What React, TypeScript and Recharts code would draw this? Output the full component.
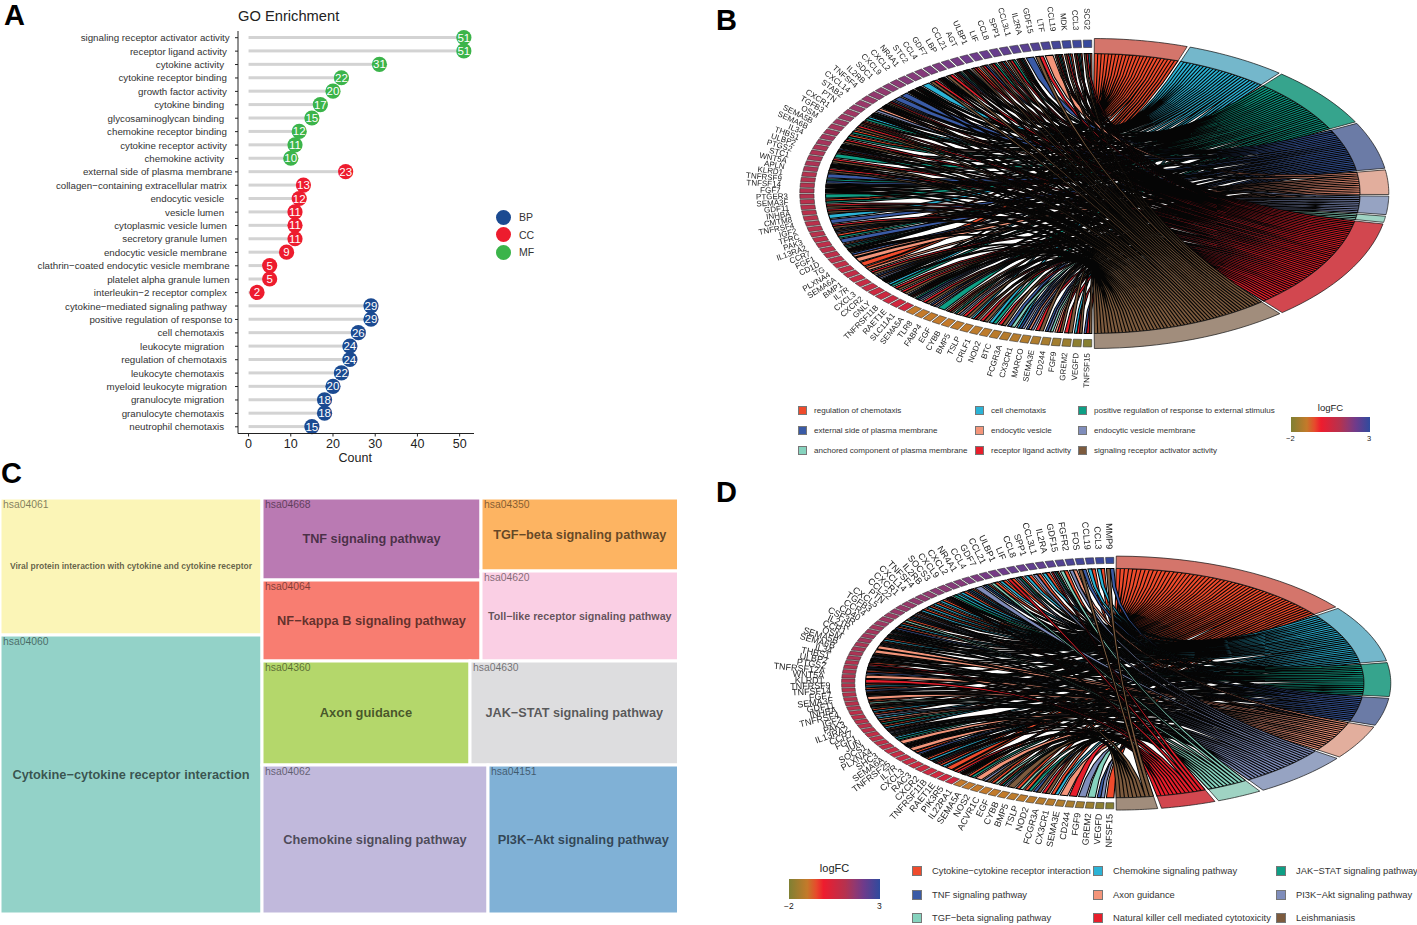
import { BarChart, Bar, XAxis, YAxis, ScatterChart, Scatter, Treemap } from "recharts"

const FONT = "'Liberation Sans', Arial, sans-serif"

// Panel A: lollipops, top row first
const goTerms = [
  "signaling receptor activator activity", "receptor ligand activity", "cytokine activity",
  "cytokine receptor binding", "growth factor activity", "cytokine binding",
  "glycosaminoglycan binding", "chemokine receptor binding", "cytokine receptor activity",
  "chemokine activity", "external side of plasma membrane", "collagen−containing extracellular matrix",
  "endocytic vesicle", "vesicle lumen", "cytoplasmic vesicle lumen", "secretory granule lumen",
  "endocytic vesicle membrane", "clathrin−coated endocytic vesicle membrane", "platelet alpha granule lumen",
  "interleukin−2 receptor complex", "cytokine−mediated signaling pathway", "positive regulation of response to",
  "cell chemotaxis", "leukocyte migration", "regulation of chemotaxis", "leukocyte chemotaxis",
  "myeloid leukocyte migration", "granulocyte migration", "granulocyte chemotaxis", "neutrophil chemotaxis",
]
const goCounts = [51, 51, 31, 22, 20, 17, 15, 12, 11, 10, 23, 13, 12, 11, 11, 11, 9, 5, 5, 2, 29, 29, 26, 24, 24, 22, 20, 18, 18, 15]
const goGroups = ["MF", "MF", "MF", "MF", "MF", "MF", "MF", "MF", "MF", "MF", "CC", "CC", "CC", "CC", "CC", "CC", "CC", "CC", "CC", "CC", "BP", "BP", "BP", "BP", "BP", "BP", "BP", "BP", "BP", "BP"]
// the original labels were padded with trailing blanks, so their right ends wander
const goPads = [1, 2, 3, 2, 2, 3, 3, 2, 2, 3, 0, 2, 3, 3, 2, 2, 2, 1, 1, 2, 2, 0, 3, 3, 2, 3, 2, 3, 3, 3]
const groupColor: Record<string, string> = { BP: "#1B4A91", CC: "#ED1C2E", MF: "#3BB44A" }

// Panel C: treemap
const keggIds = ["hsa04061", "hsa04060", "hsa04668", "hsa04064", "hsa04350", "hsa04620", "hsa04360", "hsa04630", "hsa04062", "hsa04151"]
const keggNames = [
  "Viral protein interaction with cytokine and cytokine receptor", "Cytokine−cytokine receptor interaction",
  "TNF signaling pathway", "NF−kappa B signaling pathway", "TGF−beta signaling pathway",
  "Toll−like receptor signaling pathway", "Axon guidance", "JAK−STAT signaling pathway",
  "Chemokine signaling pathway", "PI3K−Akt signaling pathway",
]
const keggSizes = [35.8, 73.15, 17.85, 17.85, 14.4, 17.7, 21.6, 21.6, 33.9, 28.5]
const keggColors = ["#FBF5B7", "#93D2C8", "#BA7AB3", "#F87D71", "#FDB462", "#FACFE4", "#B4D76B", "#DDDDDF", "#C1B9DC", "#80B1D6"]
const keggFontSizes = [8.5, 12.8, 12.7, 12.8, 12.75, 10.7, 12.9, 12.7, 12.8, 12.8]

// Panel B: chord. Each link string names the terms a gene belongs to (a = first term, ...)
const bTerms = [
  "regulation of chemotaxis", "cell chemotaxis", "positive regulation of response to external stimulus",
  "external side of plasma membrane", "endocytic vesicle", "endocytic vesicle membrane",
  "anchored component of plasma membrane", "receptor ligand activity", "signaling receptor activator activity",
]
const bGenes = [
  "SCG2", "CCL3", "MDK", "CCL19", "LTF", "GDF15", "IL2RA", "CCL3L1", "SPP1", "CCL8", "LIF", "ULBP1", "AGT", "CCL21", "LBP", "GDF7",
  "CCL4", "STC2", "NR4A1", "CXCL2", "CXCL9", "SDC1", "IL2RB", "TNFSF4", "CXCL14", "STAB2", "PTN", "CXCR1", "TGFB3", "OSM", "SEMA5B", "SEMA6B",
  "IL34", "THBS1", "ULBP2", "PTGS2", "STC1", "WNT5A", "APLN", "KLRD1", "TNFRSF9", "TNFSF14", "FGF7", "PTGER3", "SEMA3F", "GDF11", "INHBA", "CMTM8",
  "TNFRSF4", "IGF2", "TFRC", "PAK3", "IL13RA2", "CCR7", "FGF1", "CD1D", "TG", "PLXNA4", "SEMA6A", "BMP1", "IL7R", "CXCL3", "CXCR2", "GNLY",
  "TNFRSF11B", "RAET1E", "SLC11A1", "SEMA5A", "TLR8", "FABP4", "EGF", "CYBB", "BMP5", "TSLP", "CRLF1", "NOD2", "BTC", "FCGR3A", "CX3CR1", "MARCO",
  "SEMA3E", "CD244", "FGF9", "GREM2", "VEGFD", "TNFSF15",
]
const bLinks = [
  "abhi", "abchi", "abhi", "abchi", "e", "hi", "d", "abchi", "chi", "abhi", "chi", "dhi", "ahi", "abchi", "cdhi", "hi",
  "abchi", "hi", "b", "abchi", "abchi", "d", "d", "dhi", "abchi", "ef", "abhi", "bc", "ahi", "hi", "ac", "ac",
  "hi", "bchi", "dhi", "c", "hi", "abchi", "hi", "d", "cd", "cdhi", "bchi", "c", "ac", "hi", "hi", "b",
  "d", "hi", "def", "ac", "d", "abc", "abhi", "de", "e", "a", "ae", "hi", "def", "abchi", "bc", "hi",
  "hi", "dghi", "cdf", "hi", "def", "c", "ehi", "cef", "hi", "bhi", "hi", "bc", "hi", "dg", "bdf", "def",
  "hi", "dfg", "ehi", "hi", "bhi", "dhi",
]
const bLogFC = [
  2.9, 2.8, 2.8, 2.7, 2.6, 2.5, 2.4, 2.4, 2.3, 2.2, 2.2, 2.1, 2.1, 2.0, 2.0, 1.9, 1.9, 1.8, 1.8, 1.8,
  1.7, 1.7, 1.6, 1.6, 1.5, 1.5, 1.5, 1.4, 1.4, 1.4, 1.3, 1.3, 1.3, 1.3, 1.2, 1.2, 1.2, 1.2, 1.2, 1.1,
  1.1, 1.1, 1.1, 1.1, 1.0, 1.0, 1.0, 1.0, 1.0, 1.0, 1.0, 0.9, 0.9, 0.9, 0.9, 0.9, 0.8, 0.8, 0.8, 0.7,
  0.7, 0.7, 0.6, 0.6, 0.6, 0.5, 0.5, -1.0, -1.0, -1.0, -1.0, -1.0, -1.05, -1.05, -1.1, -1.1, -1.15, -1.2, -1.2, -1.25,
  -1.3, -1.4, -1.5, -1.6, -1.8, -1.9,
]

// Panel D: chord
const dTerms = [
  "Cytokine−cytokine receptor interaction", "Chemokine signaling pathway", "JAK−STAT signaling pathway",
  "TNF signaling pathway", "Axon guidance", "PI3K−Akt signaling pathway",
  "TGF−beta signaling pathway", "Natural killer cell mediated cytotoxicity", "Leishmaniasis",
]
const dGenes = [
  "MMP9", "CCL3", "CCL19", "FOS", "FGFR2", "GDF15", "IL2RA", "CCL3L1", "SPP1", "CCL8", "LIF", "ULBP1", "CCL21", "GDF7", "CCL4", "NR4A1",
  "CXCL2", "CXCL9", "SOCS3", "IL2RB", "TNFSF4", "CXCL14", "CXCR1", "CCL22", "PTN", "CXCL5", "TGFB3", "CCR4", "CD40", "CSF3R", "IL21R", "CCR1",
  "OSM", "SEMA5B", "SEMA6B", "IL34", "THBS1", "ULBP2", "PTGS2", "TNFRSF12A", "WNT5A", "KLRD1", "TNFRSF9", "TNFSF14", "FGF7", "SEMA3F", "GDF11", "INHBA",
  "TNFRSF4", "IGF2", "PAK3", "IL13RA2", "CCR7", "FGF1", "JUN", "SOCS1", "PLXNA4", "SHC3", "SEMA6A", "TNFRSF25", "IL7R", "CXCL3", "RAC3", "CXCR2",
  "TNFRSF11B", "RAET1E", "PIK3R5", "IL22RA1", "SEMA5A", "NOS2", "ACVR1C", "EGF", "CYBB", "BMP5", "TSLP", "NOD2", "FCGR3A", "CX3CR1", "SEMA3E", "CD244",
  "FGF9", "GREM2", "VEGFD", "NFSF15",
]
const dLinks = [
  "di", "ab", "ab", "di", "ef", "ag", "acfh", "ab", "af", "ab", "acf", "ah", "ab", "ag", "abd", "f",
  "abd", "ab", "bc", "acfh", "ab", "ab", "ab", "ab", "aef", "abd", "ag", "ab", "ad", "acf", "acf", "ab",
  "acf", "e", "e", "acf", "afg", "ah", "cdi", "ad", "e", "h", "ab", "ad", "aef", "e", "ag", "aeg",
  "ab", "af", "be", "ac", "ab", "aef", "dgi", "bc", "e", "bcefh", "e", "ad", "acfh", "ab", "beh", "ab",
  "a", "ah", "bfhi", "ac", "e", "fi", "ag", "acf", "i", "ag", "ac", "di", "hi", "ab", "e", "h",
  "f", "g", "df", "a",
]
const dLogFC = [
  2.9, 2.8, 2.7, 2.7, 2.6, 2.5, 2.4, 2.3, 2.3, 2.2, 2.2, 2.1, 2.0, 2.0, 1.9, 1.9, 1.8, 1.8, 1.7, 1.7,
  1.6, 1.6, 1.6, 1.5, 1.5, 1.5, 1.4, 1.4, 1.4, 1.3, 1.3, 1.3, 1.3, 1.2, 1.2, 1.2, 1.2, 1.1, 1.1, 1.1,
  1.1, 1.1, 1.0, 1.0, 1.0, 1.0, 1.0, 1.0, 0.9, 0.9, 0.9, 0.9, 0.9, 0.8, 0.8, 0.8, 0.8, 0.7, 0.7, 0.7,
  0.7, 0.6, 0.6, 0.6, 0.5, 0.5, 0.5, -1.0, -1.0, -1.0, -1.0, -1.05, -1.05, -1.1, -1.1, -1.15, -1.2, -1.2, -1.3,
  -1.4, -1.5, -1.6, -1.8, -1.9,
]

const ribbonColors = ["#EF4B2C", "#2BB3D6", "#0E9F85", "#3A5BA6", "#F4957A", "#7F8DBB", "#86D3BE", "#E81E2B", "#7D5B3E"]
const arcColors = ["#D4756B", "#74B7CB", "#36A48D", "#6B7BA6", "#E2AE9D", "#96A3C2", "#9FD3C3", "#D2474F", "#A18D7C"]

// logFC colour ramp, shared by the tiles and the colour bars
const rampStops: [number, string][] = [
  [0, "#7F8033"], [0.2, "#C47A2A"], [0.3, "#E74A2C"], [0.38, "#EE1C2E"], [0.62, "#B5324F"], [0.72, "#93386F"], [0.82, "#6F3B8B"], [1, "#2F4B9E"],
]
const rampCss = "linear-gradient(to right, " + rampStops.map(([t, c]) => `${c} ${t * 100}%`).join(", ") + ")"

function rampColor(v: number) {
  const t = Math.min(1, Math.max(0, (v + 2) / 5))
  let i = 0
  while (i < rampStops.length - 2 && rampStops[i + 1][0] < t) i++
  const [t0, c0] = rampStops[i]
  const [t1, c1] = rampStops[i + 1]
  const k = (t - t0) / (t1 - t0)
  const ch = (c: string, p: number) => parseInt(c.slice(p, p + 2), 16)
  const mix = (p: number) => Math.round(ch(c0, p) + (ch(c1, p) - ch(c0, p)) * k)
  return `rgb(${mix(1)},${mix(3)},${mix(5)})`
}

const rad = (d: number) => (d * Math.PI) / 180
// angles run from the top of the ring; terms sit on the right half, genes on the left
const onRight = (r: number, a: number) => ({ x: r * Math.sin(rad(a)), y: r * Math.cos(rad(a)) })
const onLeft = (r: number, a: number) => ({ x: -r * Math.sin(rad(a)), y: r * Math.cos(rad(a)) })

const RING = 0.903
const CURVE_STEPS = 12

type Pt = { x: number | null; y: number | null }

function quad(p: Pt, q: Pt) {
  const out: Pt[] = []
  for (let s = 0; s <= CURVE_STEPS; s++) {
    const t = s / CURVE_STEPS
    out.push({ x: (1 - t) * (1 - t) * p.x! + t * t * q.x!, y: (1 - t) * (1 - t) * p.y! + t * t * q.y! })
  }
  return out
}

function buildChord(genes: string[], links: string[], logFC: number[], gap: number) {
  const letters = "abcdefghi"
  const counts = Array.from(letters).map((l) => links.join("").split(l).length - 1)
  const total = counts.reduce((a, b) => a + b, 0)
  const slot = (180 - gap * 8 - 0.6) / total
  const starts: number[] = []
  counts.reduce((a, c, i) => {
    starts[i] = a
    return a + c * slot + gap
  }, 0.3)

  const arcs = counts.map((c, i) => {
    const pts: Pt[] = []
    const a0 = starts[i]
    const a1 = a0 + c * slot
    for (let s = 0; s <= 16; s++) pts.push(onRight(1, a0 + ((a1 - a0) * s) / 16))
    for (let s = 16; s >= 0; s--) pts.push(onRight(RING, a0 + ((a1 - a0) * s) / 16))
    pts.push(pts[0])
    return pts
  })

  const ribbons: Pt[][] = counts.map(() => [])
  const used = counts.map(() => 0)
  const pitch = 180 / genes.length
  const tileW = pitch * 0.8
  genes.forEach((_, g) => {
    const ls = links[g]
    const g0 = g * pitch + pitch * 0.1
    Array.from(ls).forEach((l, j) => {
      const t = letters.indexOf(l)
      const a1 = starts[t] + used[t] * slot
      const a2 = a1 + slot
      used[t]++
      const b1 = g0 + (j * tileW) / ls.length
      const b2 = b1 + tileW / ls.length
      const A1 = onRight(RING, a1)
      const A2 = onRight(RING, a2)
      const B1 = onLeft(RING, b1)
      const B2 = onLeft(RING, b2)
      ribbons[t].push(...quad(A1, B1), ...quad(B2, A2), A1, { x: null, y: null })
    })
  })

  const tiles = genes.map((name, g) => {
    const g0 = g * pitch + pitch * 0.1
    const mid = g0 + tileW / 2
    const c = onLeft(0.965, mid)
    return {
      x: c.x,
      y: c.y,
      name,
      fill: rampColor(logFC[g]),
      corners: [onLeft(0.99, g0), onLeft(0.99, g0 + tileW), onLeft(0.942, g0 + tileW), onLeft(0.942, g0)],
    }
  })

  const labels = genes.map((name, g) => {
    const mid = g * pitch + pitch * 0.1 + tileW / 2
    const p = onLeft(mid < 90 ? 1.055 : 1.03, mid)
    return { x: p.x, y: p.y, name, rot: 90 - mid }
  })
  return { arcs, ribbons, tiles, labels }
}

const X_DOMAIN: [number, number] = [-1.3, 1.02]
const Y_DOMAIN: [number, number] = [-1.3, 1.3]

function ChordChart(props: {
  cx: number; cy: number; rx: number; ry: number; genes: string[]; links: string[]; logFC: number[]; gap: number; labelSize: number
}) {
  const { cx, cy, rx, ry, genes, links, logFC, gap, labelSize } = props
  const { arcs, ribbons, tiles, labels } = buildChord(genes, links, logFC, gap)
  const width = (X_DOMAIN[1] - X_DOMAIN[0]) * rx
  const height = (Y_DOMAIN[1] - Y_DOMAIN[0]) * ry
  return (
    <div style={{ position: "absolute", left: cx + X_DOMAIN[0] * rx, top: cy - Y_DOMAIN[1] * ry, willChange: "transform" }}>
      <ScatterChart width={width} height={height} margin={{ left: 0, right: 0, top: 0, bottom: 0 }}>
        <XAxis type="number" dataKey="x" domain={X_DOMAIN} hide />
        <YAxis type="number" dataKey="y" domain={Y_DOMAIN} hide />
        {ribbons.map((pts, i) => (
          <Scatter
            key={"r" + i}
            data={pts}
            isAnimationActive={false}
            shape={() => null}
            line={{ fill: ribbonColors[i], stroke: "#050505", strokeWidth: 1.05 }}
          />
        ))}
        {arcs.map((pts, i) => (
          <Scatter
            key={"a" + i}
            data={pts}
            isAnimationActive={false}
            shape={() => null}
            line={{ fill: arcColors[i], stroke: "#111", strokeWidth: 0.7 }}
          />
        ))}
        <Scatter
          data={tiles}
          isAnimationActive={false}
          shape={(p: any) => {
            const d = p.payload
            const pts = d.corners.map((c: any) => `${p.cx + (c.x - d.x) * rx},${p.cy - (c.y - d.y) * ry}`).join(" ")
            return <polygon points={pts} fill={d.fill} stroke="#333" strokeWidth={0.6} />
          }}
        />
        <Scatter
          data={labels}
          isAnimationActive={false}
          shape={(p: any) => (
            <text
              x={p.cx}
              y={p.cy}
              transform={`rotate(${p.payload.rot} ${p.cx} ${p.cy})`}
              textAnchor="end"
              dominantBaseline="central"
              fontSize={labelSize}
              fontFamily={FONT}
              fill="#222"
            >
              {p.payload.name}
            </text>
          )}
        />
      </ScatterChart>
    </div>
  )
}

function Legend2(props: {
  terms: string[]; xs: [number, number, number]; ys: [number, number, number]; size: number; box: number; dx: number
}) {
  const { terms, xs, ys, size, box, dx } = props
  return (
    <>
      {terms.map((t, i) => {
        const col = i % 3
        const row = Math.floor(i / 3)
        return (
          <div key={t}>
            <div
              style={{
                position: "absolute", left: xs[col] - box / 2, top: ys[row] - box / 2, width: box, height: box,
                boxSizing: "border-box", background: ribbonColors[i], border: "1px solid #777",
              }}
            />
            <div
              style={{
                position: "absolute", left: xs[col] + dx, top: ys[row] - size * 0.62 + 0.5, fontSize: size,
                lineHeight: `${size * 1.24}px`, color: "#333", whiteSpace: "nowrap",
              }}
            >
              {t}
            </div>
          </div>
        )
      })}
    </>
  )
}

function ColorBar(props: { x: number; y: number; w: number; h: number; title: number; small: number }) {
  const { x, y, w, h, title, small } = props
  return (
    <>
      <div style={{ position: "absolute", left: x, top: y - title * 1.35 - 2, width: w, textAlign: "center", fontSize: title, color: "#222" }}>logFC</div>
      <div style={{ position: "absolute", left: x, top: y, width: w, height: h, background: rampCss }} />
      <div style={{ position: "absolute", left: x - 5, top: y + h + 2, fontSize: small, color: "#222" }}>−2</div>
      <div style={{ position: "absolute", left: x + w - 3, top: y + h + 2, fontSize: small, color: "#222" }}>3</div>
    </>
  )
}

function PanelLetter({ x, y, t }: { x: number; y: number; t: string }) {
  return <div style={{ position: "absolute", left: x, top: y, fontSize: 29, fontWeight: 700, lineHeight: "29px", color: "#000" }}>{t}</div>
}

const lollipopData = goTerms.map((term, i) => ({ term, count: goCounts[i], group: goGroups[i], pad: goPads[i] }))

function GoPanel() {
  return (
    <div style={{ position: "absolute", left: 0, top: 0 }}>
      <BarChart width={480} height={470} layout="vertical" data={lollipopData} margin={{ left: 0, right: 6, top: 31, bottom: 0 }}>
        <XAxis
          type="number"
          domain={[-2.5, 53.4]}
          ticks={[0, 10, 20, 30, 40, 50]}
          height={36.5}
          tickSize={3}
          tickMargin={3}
          stroke="#222"
          tick={{ fontSize: 12.5, fill: "#222", fontFamily: FONT }}
        />
        <YAxis
          type="category"
          dataKey="term"
          width={238}
          interval={0}
          tickSize={3}
          stroke="#222"
          tick={(p: any) => (
            <text
              x={232.5 - lollipopData[p.index].pad * 2.8}
              y={p.y}
              textAnchor="end"
              dominantBaseline="central"
              fontSize={9.75}
              fontFamily={FONT}
              fill="#333"
            >
              {p.payload.value}
            </text>
          )}
        />
        <Bar
          dataKey="count"
          barSize={3}
          isAnimationActive={false}
          shape={(p: any) => {
            const cx = p.x + p.width
            const cy = p.y + p.height / 2
            return (
              <g>
                <rect x={p.x} y={p.y} width={p.width} height={p.height} fill="#D3D3D3" />
                <circle cx={cx} cy={cy} r={7.6} fill={groupColor[p.payload.group]} />
                <text x={cx} y={cy} textAnchor="middle" dominantBaseline="central" fontSize={11.5} fontFamily={FONT} fill="#fff">
                  {p.payload.count}
                </text>
              </g>
            )
          }}
        />
      </BarChart>
      <div style={{ position: "absolute", left: 238, top: 7.5, fontSize: 14.7, color: "#222", whiteSpace: "nowrap" }}>GO Enrichment</div>
      <div style={{ position: "absolute", left: 338.5, top: 451, fontSize: 12.5, color: "#222" }}>Count</div>
      {["BP", "CC", "MF"].map((g, i) => (
        <div key={g}>
          <div style={{ position: "absolute", left: 495.5, top: 209.5 + i * 17.6, width: 15, height: 15, borderRadius: "50%", background: groupColor[g] }} />
          <div style={{ position: "absolute", left: 519, top: 211 + i * 17.6, fontSize: 10.5, color: "#333" }}>{g}</div>
        </div>
      ))}
    </div>
  )
}

// The treemap is nested only to force the tile arrangement of the reference
function keggLeaf(i: number) {
  return { name: keggNames[i], value: keggSizes[i], code: keggIds[i], color: keggColors[i], fs: keggFontSizes[i] }
}
const keggTree = [
  keggLeaf(0),
  keggLeaf(1),
  {
    name: "rest",
    children: [
      {
        name: "upper",
        children: [
          { name: "u1", children: [keggLeaf(2), keggLeaf(3)] },
          { name: "u2", children: [keggLeaf(4), keggLeaf(5)] },
        ],
      },
      {
        name: "lower",
        children: [
          { name: "l1", children: [keggLeaf(6), keggLeaf(7)] },
          { name: "l2", children: [keggLeaf(8), keggLeaf(9)] },
        ],
      },
    ],
  },
]

function KeggTile(p: any) {
  if (p.children && p.children.length) return <g />
  if (!p.code) return <g />
  return (
    <g>
      <rect x={p.x} y={p.y} width={p.width} height={p.height} fill={p.color} stroke="#fff" strokeWidth={3} />
      <text x={p.x + 3} y={p.y + 10} fontSize={10.4} fontFamily={FONT} fill="#000" fillOpacity={0.5}>
        {p.code}
      </text>
      <text
        x={p.x + p.width / 2}
        y={p.y + p.height / 2 - 0.5}
        textAnchor="middle"
        dominantBaseline="central"
        fontSize={p.fs}
        fontWeight={700}
        fontFamily={FONT}
        fill="#000"
        fillOpacity={0.62}
      >
        {p.name}
      </text>
    </g>
  )
}

function KeggPanel() {
  return (
    <div style={{ position: "absolute", left: 0, top: 498 }}>
      <Treemap
        width={678.5}
        height={416}
        data={keggTree}
        dataKey="value"
        nameKey="name"
        type="flat"
        aspectRatio={1.8}
        isAnimationActive={false}
        content={(p: any) => <KeggTile {...p} />}
      />
    </div>
  )
}

export default function App() {
  return (
    <div style={{ position: "absolute", left: 0, top: 0, width: 1417, height: 925, background: "#fff", overflow: "hidden", fontFamily: FONT }}>
      <PanelLetter x={4} y={1} t="A" />
      <PanelLetter x={716} y={6} t="B" />
      <PanelLetter x={1} y={459} t="C" />
      <PanelLetter x={716} y={478} t="D" />

      <GoPanel />
      <KeggPanel />

      <ChordChart cx={1093} cy={193.5} rx={296} ry={155} genes={bGenes} links={bLinks} logFC={bLogFC} gap={0.6} labelSize={8} />
      <Legend2 terms={bTerms} xs={[802, 979, 1082]} ys={[410, 430, 450]} size={8.05} box={9} dx={12} />
      <ColorBar x={1291} y={417} w={79} h={15} title={9.5} small={7.5} />

      <ChordChart cx={1115} cy={683} rx={276} ry={127} genes={dGenes} links={dLinks} logFC={dLogFC} gap={0.8} labelSize={9} />
      <Legend2 terms={dTerms} xs={[917, 1098, 1281]} ys={[871, 895, 918]} size={9.35} box={10} dx={15} />
      <ColorBar x={789} y={879} w={91} h={20} title={11} small={8.5} />
    </div>
  )
}
